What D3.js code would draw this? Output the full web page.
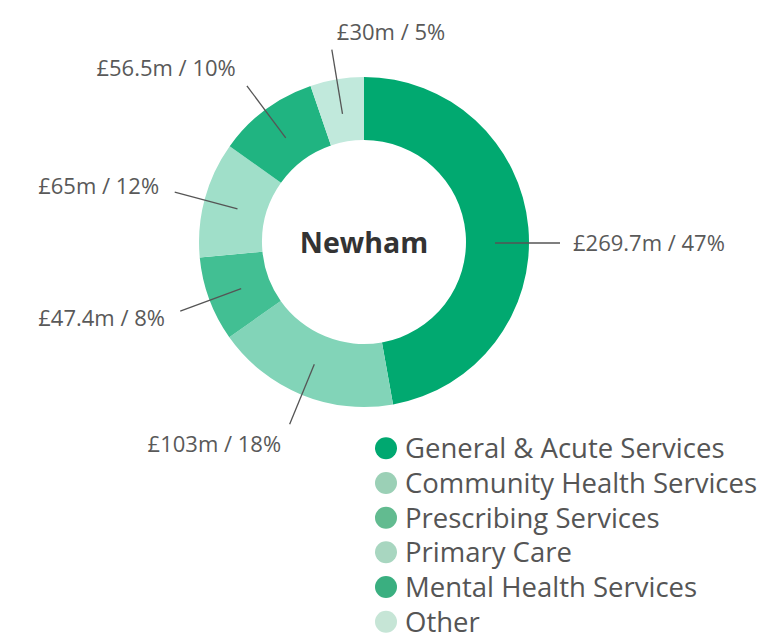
<!DOCTYPE html>
<html lang="en">
<head>
    <meta charset="utf-8">
    <title>Newham spend</title>
    <script src="https://d3js.org/d3.v7.min.js"></script>
    <style>
        html, body {
            margin: 0;
            padding: 0;
            background: #fff;
        }
        text {
            font-family: "Open Sans", sans-serif;
        }
        .lbl {
            font-size: 22px;
            fill: #595959;
        }
        .leg {
            font-size: 27.5px;
            fill: #555;
        }
        .leader {
            stroke: #555;
            stroke-width: 1.3px;
            fill: none;
        }
    </style>
</head>
<body>
<script type="text/javascript">

    // data
    var categories = ["General & Acute Services", "Community Health Services", "Prescribing Services",
                      "Primary Care", "Mental Health Services", "Other"];
    var values = [269.7, 103, 47.4, 65, 56.5, 30];
    var valueLabels = ["£269.7m", "£103m", "£47.4m", "£65m", "£56.5m", "£30m"];
    var percents = [47, 18, 8, 12, 10, 5];
    var title = "Newham";

    var sliceColors = ["#01a970", "#82d4b8", "#42bf93", "#a0dfc9", "#20b481", "#c1e9dc"];
    var legendColors = ["#00a870", "#9bd0b6", "#62bb90", "#a8d6c0", "#3aaf80", "#c6e5d6"];

    var w = 764, h = 636;
    var cx = 364, cy = 242;
    var outerR = 165, innerR = 102;

    var svg = d3.select("body")
        .append("svg")
        .attr("width", w)
        .attr("height", h);

    var data = categories.map(function(c, i) {
        return {name: c, value: values[i], label: valueLabels[i] + " / " + percents[i] + "%", i: i};
    });

    var pie = d3.pie()
        .sort(null)
        .value(function(d) { return d.value; });

    var arc = d3.arc()
        .innerRadius(innerR)
        .outerRadius(outerR);

    var arcs = pie(data);

    var g = svg.append("g")
        .attr("transform", "translate(" + cx + "," + cy + ")");

    g.selectAll("path.slice")
        .data(arcs)
        .enter()
        .append("path")
        .attr("class", "slice")
        .attr("d", arc)
        .attr("fill", function(d) { return sliceColors[d.data.i]; });

    // leader lines + labels
    var r1 = 131, r2 = 196;
    arcs.forEach(function(d) {
        var a = (d.startAngle + d.endAngle) / 2;
        // near-horizontal leaders get snapped flat
        if (Math.abs(Math.cos(a)) < 0.15) a = Math.sin(a) > 0 ? Math.PI / 2 : 3 * Math.PI / 2;
        var sx = Math.sin(a), sy = -Math.cos(a);
        var p1 = [sx * r1, sy * r1 + 1];
        var p2 = [sx * r2, sy * r2 + 1];
        g.append("line")
            .attr("class", "leader")
            .attr("x1", p1[0]).attr("y1", p1[1])
            .attr("x2", p2[0]).attr("y2", p2[1]);

        var t = g.append("text")
            .attr("class", "lbl")
            .attr("dy", "0.35em")
            .text(d.data.label);
        if (Math.abs(sx) < 0.3) {
            t.attr("x", p2[0] + 5).attr("y", p2[1] - 17).attr("text-anchor", "start");
        } else if (sx > 0) {
            t.attr("x", p2[0] + 13).attr("y", p2[1] + sy * 22).attr("text-anchor", "start");
        } else {
            t.attr("x", p2[0] - 4 + sx * 12).attr("y", p2[1] + sy * 22).attr("text-anchor", "end");
        }
    });

    g.append("text")
        .attr("text-anchor", "middle")
        .attr("dy", "0.35em")
        .attr("y", 1)
        .style("font-size", "28.5px")
        .style("font-weight", "bold")
        .style("fill", "#333")
        .text(title);

    // legend
    var legY = d3.scaleBand()
        .domain(categories)
        .range([431, 639]);

    var leg = svg.append("g");
    var rows = leg.selectAll("g.row")
        .data(data)
        .enter()
        .append("g")
        .attr("class", "row")
        .attr("transform", function(d) {
            return "translate(386," + (legY(d.name) + legY.bandwidth() / 2) + ")";
        });

    rows.append("circle")
        .attr("r", 11)
        .attr("fill", function(d) { return legendColors[d.i]; });

    rows.append("text")
        .attr("class", "leg")
        .attr("x", 19)
        .attr("dy", "0.36em")
        .text(function(d) { return d.name; });

</script>
</body>
</html>
